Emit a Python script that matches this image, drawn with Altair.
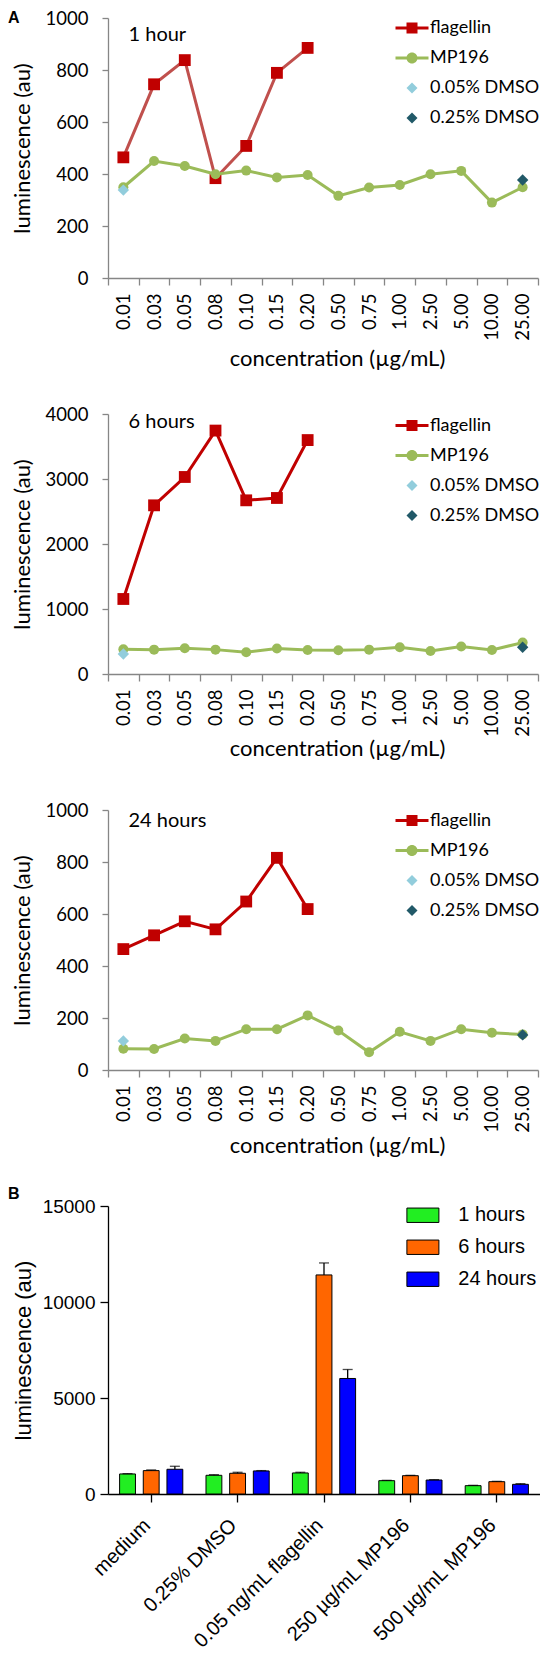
import altair as alt
import pandas as pd

# ---------------- data ----------------
conc = ["0.01", "0.03", "0.05", "0.08", "0.10", "0.15", "0.20", "0.50",
        "0.75", "1.00", "2.50", "5.00", "10.00", "25.00"]
series_names = ["flagellin", "MP196", "0.05% DMSO", "0.25% DMSO"]

flag_1h = [464, 745, 838, 384, 508, 789, 885]
mp_1h = [349, 450, 431, 399, 413, 387, 396, 316, 348, 358, 399, 412, 290, 349]
dmso05_1h = 338
dmso25_1h = 377

flag_6h = [1154, 2595, 3031, 3745, 2672, 2708, 3599]
mp_6h = [380, 375, 396, 375, 334, 391, 370, 365, 375, 411, 355, 422, 370, 483]
dmso05_6h = 308
dmso25_6h = 411

flag_24h = [465, 518, 572, 541, 648, 816, 619]
mp_24h = [82, 81, 121, 112, 157, 157, 210, 152, 68, 147, 112, 157, 143, 137]
dmso05_24h = 112
dmso25_24h = 135

groups = ["medium", "0.25% DMSO", "0.05 ng/mL flagellin", "250 µg/mL MP196", "500 µg/mL MP196"]
hours = ["1 hours", "6 hours", "24 hours"]
mean_1h = [1044, 974, 1096, 694, 434]
mean_6h = [1218, 1079, 11410, 954, 642]
mean_24h = [1288, 1201, 6017, 728, 503]
err_1h = [15, 35, 35, 17, 17]
err_6h = [35, 52, 624, 17, 17]
err_24h = [156, 17, 468, 18, 35]

# ---------------- styles ----------------
RED = "#C00000"
RED_LINE1 = "#C0504D"
GREEN = "#9BBB59"
LBLUE = "#92CDDC"
DTEAL = "#215968"
GREY = "#868686"
BAR_COLORS = ["#22EE22", "#FF6600", "#0000FF"]

legend_paths = [
    "M-1.5,-0.14H-0.5V-0.5H0.5V-0.14H1.5V0.14H0.5V0.5H-0.5V0.14H-1.5Z",
    "M-1.5,-0.14H1.5V0.14H-1.5Z M0.5,0A0.5,0.5,0,1,1,-0.5,0A0.5,0.5,0,1,1,0.5,0Z",
    "M0,-0.5L0.5,0L0,0.5L-0.5,0Z",
    "M0,-0.5L0.5,0L0,0.5L-0.5,0Z",
]

FA = "Lato"
FB = "Liberation Sans"


def panel_df(flag, mp, d05, d25):
    rows = []
    for i, (c, v) in enumerate(zip(conc, flag)):
        rows.append({"conc": c, "idx": i, "value": v, "series": "flagellin"})
    for i, (c, v) in enumerate(zip(conc, mp)):
        rows.append({"conc": c, "idx": i, "value": v, "series": "MP196"})
    rows.append({"conc": conc[0], "idx": 0, "value": d05, "series": "0.05% DMSO"})
    rows.append({"conc": conc[-1], "idx": len(conc) - 1, "value": d25, "series": "0.25% DMSO"})
    return pd.DataFrame(rows)


def line_panel(df, ymax, ystep, note, note_y, line_color, legend_y, xtitle_pad, letter=None):
    x = alt.X(
        "conc:N", sort=conc,
        scale=alt.Scale(type="band", domain=conc, paddingInner=0, paddingOuter=0),
        axis=alt.Axis(
            title="concentration (µg/mL)", labelAngle=270, tickBand="extent",
            tickSize=7, labelPadding=8, labelFont=FA, labelFontSize=18.5,
            labelColor="black", titleFont=FA, titleFontSize=22,
            titleFontWeight="normal", titleColor="black", titlePadding=xtitle_pad,
            titleX=229, domainColor=GREY, tickColor=GREY, domainWidth=1.3,
            tickWidth=1.3, grid=False,
        ),
    )
    y = alt.Y(
        "value:Q",
        scale=alt.Scale(domain=[0, ymax], nice=False, zero=True),
        axis=alt.Axis(
            values=list(range(0, ymax + 1, ystep)), format="d", grid=False,
            tickSize=6, labelPadding=14, labelFont=FA, labelFontSize=18.5,
            labelColor="black", title="luminescence (au)", titleFont=FA,
            titleFontSize=22, titleFontWeight="normal", titleColor="black",
            titlePadding=11, domainColor=GREY, tickColor=GREY,
            domainWidth=1.3, tickWidth=1.3,
        ),
    )
    base = alt.Chart(df).encode(x=x, y=y, order=alt.Order("idx:Q"))

    def sel(name):
        return base.transform_filter(alt.datum.series == name)

    leg = alt.Legend(
        title=None, orient="none", legendX=293, legendY=legend_y, padding=0,
        rowPadding=10, symbolSize=484, symbolOpacity=1, symbolStrokeWidth=0,
        labelFont=FA, labelFontSize=18, labelColor="black", labelOffset=7,
        labelLimit=0,
    )
    layers = [
        sel("flagellin").mark_line(color=line_color, strokeWidth=3),
        sel("flagellin").mark_point(shape="square", filled=True, size=140, color=RED, opacity=1),
        sel("MP196").mark_line(color=GREEN, strokeWidth=3),
        sel("MP196").mark_point(shape="circle", filled=True, size=100, color=GREEN, opacity=1),
        sel("0.05% DMSO").mark_point(shape="diamond", filled=True, size=130, color=LBLUE, opacity=1),
        sel("0.25% DMSO").mark_point(shape="diamond", filled=True, size=130, color=DTEAL, opacity=1),
        base.mark_point(filled=True, opacity=0).encode(
            color=alt.Color("series:N", scale=alt.Scale(domain=series_names, range=[RED, GREEN, LBLUE, DTEAL]), legend=leg),
            shape=alt.Shape("series:N", scale=alt.Scale(domain=series_names, range=legend_paths), legend=leg),
        ),
        alt.Chart(pd.DataFrame({"t": [note]})).mark_text(
            align="left", baseline="alphabetic", font=FA, fontSize=20, color="black"
        ).encode(text="t:N", x=alt.value(20.5), y=alt.value(note_y)),
    ]
    if letter:
        layers.append(
            alt.Chart(pd.DataFrame({"t": [letter]})).mark_text(
                align="left", baseline="middle", font=FB, fontSize=16, fontWeight="bold", color="black"
            ).encode(text="t:N", x=alt.value(-100), y=alt.value(0))
        )
    return alt.layer(*layers).properties(width=430, height=260)


p1 = line_panel(panel_df(flag_1h, mp_1h, dmso05_1h, dmso25_1h), 1000, 200, "1 hour", 22.8, RED_LINE1, -1, 8, "A")
p2 = line_panel(panel_df(flag_6h, mp_6h, dmso05_6h, dmso25_6h), 4000, 1000, "6 hours", 14, RED, 0.5, 2)
p3 = line_panel(panel_df(flag_24h, mp_24h, dmso05_24h, dmso25_24h), 1000, 200, "24 hours", 16.7, RED, -0.5, 3)

# ---------------- panel B ----------------
brows = []
for s, means, errs in zip(hours, [mean_1h, mean_6h, mean_24h], [err_1h, err_6h, err_24h]):
    for g, m, e in zip(groups, means, errs):
        brows.append({"group": g, "series": s, "value": m, "upper": m + e})
bdf = pd.DataFrame(brows)

bx = alt.X(
    "group:N", sort=groups,
    scale=alt.Scale(domain=groups, paddingInner=0, paddingOuter=0),
    axis=alt.Axis(
        title=None, labelAngle=315, labelAlign="right", labelBaseline="middle",
        tickSize=8, labelPadding=20, labelOffset=-4, labelFont=FB,
        labelFontSize=20, labelColor="black", domainColor="black",
        tickColor="black", domainWidth=1.3, tickWidth=1.3, labelLimit=0,
    ),
)
bxo = alt.XOffset("series:N", sort=hours, scale=alt.Scale(domain=hours, paddingInner=0.33, paddingOuter=0.49))
by = alt.Y(
    "value:Q",
    scale=alt.Scale(domain=[0, 15000], nice=False),
    axis=alt.Axis(
        values=[0, 5000, 10000, 15000], format="d", grid=False, tickSize=8,
        labelPadding=5, labelFont=FB, labelFontSize=19, labelColor="black",
        title="luminescence (au)", titleFont=FB, titleFontSize=22,
        titleFontWeight="normal", titleColor="black", titlePadding=7,
        domainColor="black", tickColor="black", domainWidth=1.3, tickWidth=1.3,
    ),
)
bbase = alt.Chart(bdf).encode(x=bx, xOffset=bxo)
bars = bbase.mark_bar(stroke="black", strokeWidth=1).encode(
    y=by,
    color=alt.Color(
        "series:N", scale=alt.Scale(domain=hours, range=BAR_COLORS),
        legend=alt.Legend(
            title=None, orient="none", legendX=298.4, legendY=-7.25, padding=0,
            rowPadding=5, symbolType="M-1,-0.45H1V0.45H-1Z", symbolSize=1024,
            symbolStrokeColor="black", symbolStrokeWidth=1, symbolOpacity=1,
            labelFont=FB, labelFontSize=20, labelColor="black", labelOffset=18.9,
            labelLimit=0,
        ),
    ),
)
err_rule = bbase.mark_rule(color="black", strokeWidth=1.3).encode(y=alt.Y("value:Q"), y2="upper:Q")
err_cap = bbase.mark_tick(color="black", thickness=1.3, size=10).encode(y=alt.Y("upper:Q"))
b_letter = alt.Chart(pd.DataFrame({"t": ["B"]})).mark_text(
    align="left", baseline="middle", font=FB, fontSize=16, fontWeight="bold", color="black"
).encode(text="t:N", x=alt.value(-100), y=alt.value(-12.5))

pB = alt.layer(bars, err_rule, err_cap, b_letter).properties(width=432, height=288)

chart = (
    alt.vconcat(p1, p2, p3, pB, spacing=136, bounds="flush")
    .resolve_scale(color="independent", shape="independent", x="independent", y="independent")
    .resolve_legend(color="independent", shape="independent")
    .properties(padding={"left": 0, "top": 1, "right": 0, "bottom": 0})
    .configure_view(stroke=None)
)

chart.save("out.html", embed_options={"renderer": "svg", "actions": False})
